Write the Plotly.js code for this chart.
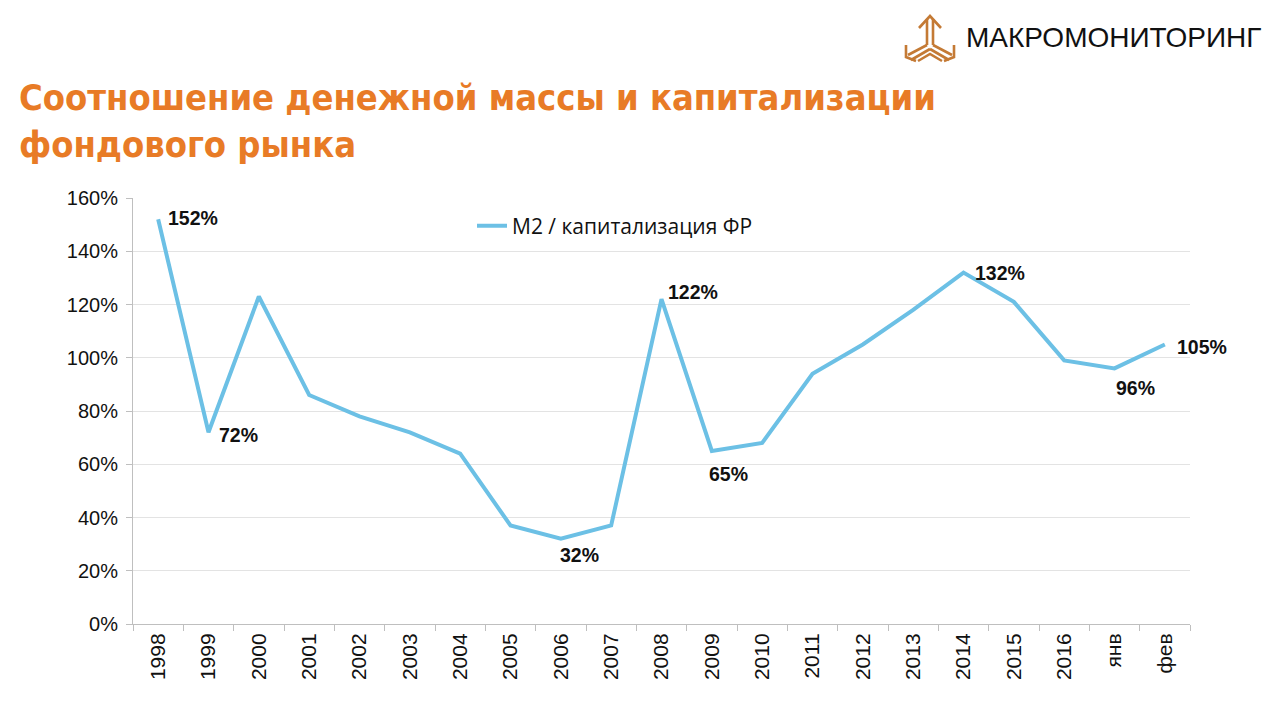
<!DOCTYPE html>
<html><head><meta charset="utf-8">
<script src="https://cdn.plot.ly/plotly-3.0.1.min.js"></script>
<style>html,body{margin:0;padding:0;background:#fff;}#chart{width:1280px;height:720px;}</style>
</head><body><div id="chart"></div>
<script>
const categories = ['1998','1999','2000','2001','2002','2003','2004','2005','2006','2007','2008','2009','2010','2011','2012','2013','2014','2015','2016','янв','фев'];
const values = [152,72,123,86,78,72,64,37,32,37,122,65,68,94,105,118,132,121,99,96,105];
const labelIdx = [0,1,8,10,11,16,19,20];
const seriesName = 'M2 / капитализация ФР';
const titleText = 'Соотношение денежной массы и капитализации<br>фондового рынка';
const logoText = 'МАКРОМОНИТОРИНГ';

// label placement styles (pixel offsets), parallel to labelIdx
const labelStyle = [
  {xa: 'left', xs: 8, ys: 1},
  {xa: 'left', xs: 8, ys: -3},
  {xa: 'center', xs: 19, ys: -16},
  {xa: 'left', xs: 4, ys: 7},
  {xa: 'center', xs: 17, ys: -23},
  {xa: 'left', xs: 9, ys: 0},
  {xa: 'center', xs: 21, ys: -20},
  {xa: 'left', xs: 10, ys: -3}
];

const anns = labelIdx.map((i, k) => {
  const s = labelStyle[k];
  return {x: i, y: values[i], xref: 'x', yref: 'y', text: values[i] + '%', showarrow: false,
    xanchor: s.xa, yanchor: 'middle', xshift: s.xs, yshift: s.ys,
    font: {family: 'Liberation Sans, Arial, sans-serif', size: 19.5, color: '#111', weight: 'bold'}};
});

anns.push({xref: 'paper', yref: 'paper', x: (17 - 133) / 1057, y: (624 - 75) / 426, xanchor: 'left', yanchor: 'top',
  text: '<b>' + titleText + '</b>', align: 'left', showarrow: false,
  font: {family: 'DejaVu Sans Condensed, DejaVu Sans, sans-serif', size: 36, color: '#E87B26'}});
anns.push({xref: 'paper', yref: 'paper', x: (964 - 133) / 1057, y: (624 - 38) / 426, xanchor: 'left', yanchor: 'middle',
  text: logoText, showarrow: false,
  font: {family: 'Liberation Sans, Arial, sans-serif', size: 28, color: '#111'}});

const iconSvg = '<svg xmlns="http://www.w3.org/2000/svg" width="56" height="50" viewBox="0 0 56 50">' +
  '<g fill="none" stroke="#C47A35" stroke-width="2.6" stroke-linecap="butt" stroke-linejoin="miter">' +
  '<path d="M25 32 L25 6"/><path d="M31 32 L31 6"/><path d="M17 15 L28 3 L39 15"/>' +
  '<path d="M25 32 L6 42"/><path d="M28 36 L9 47"/><path d="M4 32 L4 44 L14 48"/>' +
  '<path d="M31 32 L50 42"/><path d="M28 36 L47 47"/><path d="M52 32 L52 44 L42 48"/>' +
  '<path d="M16 48 L28 41 L40 48"/>' +
  '</g></svg>';

const layout = {
  width: 1280, height: 720,
  margin: {l: 133, r: 90, t: 198, b: 96},
  paper_bgcolor: '#fff', plot_bgcolor: '#fff',
  showlegend: true,
  legend: {x: (472 - 133) / 1057, y: (624 - 226) / 426, xanchor: 'left', yanchor: 'middle', bgcolor: 'rgba(0,0,0,0)',
    font: {family: 'Open Sans, Liberation Sans, sans-serif', size: 21, color: '#111'}, itemwidth: 30},
  xaxis: {type: 'category', tickangle: -90, tickson: 'boundaries', ticks: 'outside', ticklen: 6, tickcolor: '#bfbfbf',
    showline: true, linecolor: '#bfbfbf', linewidth: 1, showgrid: false, range: [-0.5, categories.length - 0.5],
    tickfont: {family: 'Liberation Sans, Arial, sans-serif', size: 21, color: '#111'}, fixedrange: true},
  yaxis: {range: [0, 160], dtick: 20, ticksuffix: '%', ticks: 'outside', ticklen: 6, tickcolor: '#bfbfbf',
    showline: true, linecolor: '#bfbfbf', linewidth: 1, gridcolor: '#e3e3e3', zeroline: false, ticklabelstandoff: 4,
    tickfont: {family: 'Liberation Sans, Arial, sans-serif', size: 20, color: '#111'}},
  annotations: anns,
  images: [{source: 'data:image/svg+xml;utf8,' + encodeURIComponent(iconSvg), xref: 'paper', yref: 'paper',
    x: (902 - 133) / 1057, y: (624 - 13) / 426, sizex: 56 / 1057, sizey: 50 / 426, xanchor: 'left', yanchor: 'top', sizing: 'stretch', layer: 'above'}]
};

Plotly.newPlot('chart', [{
  x: categories, y: values, type: 'scatter', mode: 'lines', name: seriesName,
  line: {color: '#6CC0E5', width: 4}, hoverinfo: 'skip'
}], layout, {displayModeBar: false, staticPlot: true});
</script></body></html>
